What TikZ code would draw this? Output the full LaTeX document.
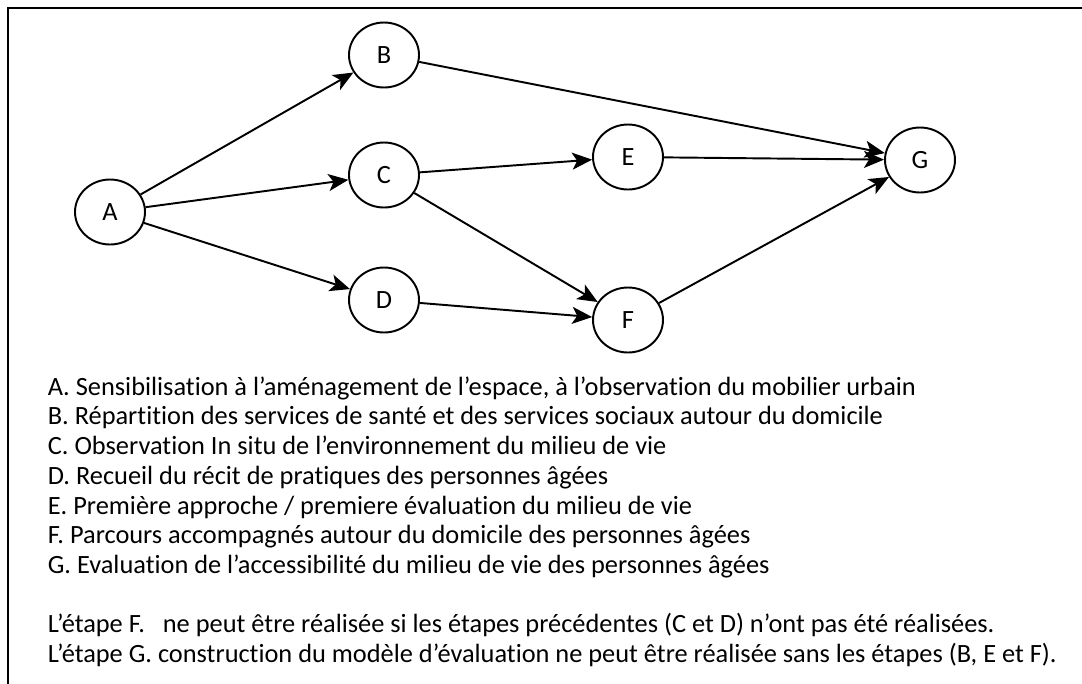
\documentclass[tikz,border=0pt]{standalone}
\usepackage{fontspec}
\setmainfont[RawFeature={-liga;-clig;-dlig;-calt}]{Carlito}
\usepackage{tikz}
\usetikzlibrary{arrows.meta,shapes.geometric}

\begin{document}
\begin{tikzpicture}[
  font=\fontsize{15}{17}\selectfont,
  etape/.style={draw, ellipse, line width=1.1pt, minimum width=1.4cm,
                minimum height=1.3cm, inner sep=0pt},
  fl/.style={-{Stealth[length=4mm, width=3.4mm, inset=1mm]}, line width=1.1pt},
  legende/.style={anchor=base west, inner sep=0pt}
]
\clip (0,0) rectangle (21.64,-13.68);
% cadre (coupé à droite et en bas)
\draw[line width=1.2pt] (0.16,-0.16) rectangle (23,-15);

% =============== graphe des étapes ===============
\node[etape] (A) at (2.2,-4.24)   {A};
\node[etape] (B) at (7.68,-1.1)   {B};
\node[etape] (C) at (7.68,-3.5)   {C};
\node[etape] (D) at (7.68,-6.0)   {D};
\node[etape] (E) at (12.56,-3.14) {E};
\node[etape] (F) at (12.56,-6.4)  {F};
\node[etape] (G) at (18.4,-3.2)   {G};

\draw[fl] (A) -- (B);
\draw[fl] (A) -- (C);
\draw[fl] (A) -- (D);
\draw[fl] (C) -- (E);
\draw[fl] (C) -- (F);
\draw[fl] (D) -- (F);
\draw[fl] (B) -- (G);
\draw[fl] (E) -- (G);
\draw[fl] (F) -- (G);

% =============== légende ===============
\node[legende] (la) at (0.95,-7.90)
  {A.\ Sensibilisation à l'aménagement de l'espace, à l'observation du mobilier urbain};
\node[legende] (lb) at (0.95,-8.49)
  {B.\ Répartition des services de santé et des services sociaux autour du domicile};
\node[legende] (lc) at (0.95,-9.09)
  {C.\ Observation In situ de l'environnement du milieu de vie};
\node[legende] (ld) at (0.95,-9.68)
  {D.\ Recueil du récit de pratiques des personnes âgées};
\node[legende] (le) at (0.95,-10.28)
  {E.\ Première approche / premiere évaluation du milieu de vie};
\node[legende] (lf) at (0.95,-10.87)
  {F.\ Parcours accompagnés autour du domicile des personnes âgées};
\node[legende] (lg) at (0.95,-11.46)
  {G.\ Evaluation de l'accessibilité du milieu de vie des personnes âgées};

\node[legende] (n1) at (0.95,-12.65)
  {L'étape F.\ \ \ ne peut être réalisée si les étapes précédentes (C et D) n'ont pas été réalisées.};
\node[legende] (n2) at (0.95,-13.25)
  {L'étape G. construction du modèle d'évaluation ne peut être réalisée sans les étapes (B, E et F).};
\end{tikzpicture}
\end{document}
